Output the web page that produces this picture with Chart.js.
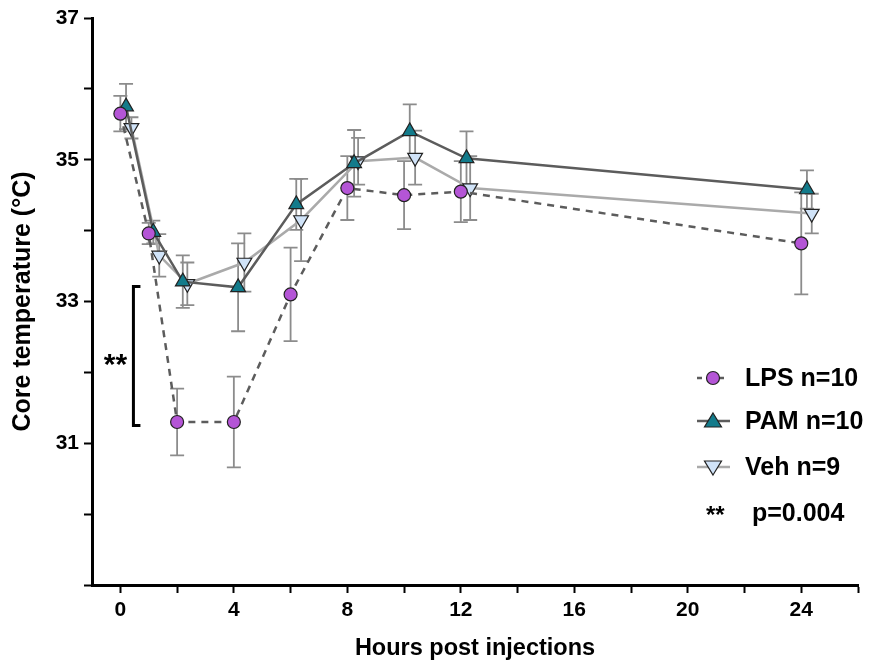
<!DOCTYPE html>
<html>
<head>
<meta charset="utf-8">
<script src="https://cdn.jsdelivr.net/npm/chart.js@4.4.1/dist/chart.umd.min.js"></script>
<style>
  html, body { margin: 0; padding: 0; background: #fff; }
  #wrap { width: 872px; height: 663px; }
</style>
</head>
<body>
<div id="wrap"><canvas id="tempChart" width="872" height="663"></canvas></div>
<script>
// hours after injection (groups are slightly offset, as in the figure)
const hoursLPS = [0, 1, 2, 4, 6, 8, 10, 12, 24];
const tempLPS  = [35.65, 33.96, 31.3, 31.3, 33.1, 34.6, 34.5, 34.55, 33.82];
const semLPS   = [0.25, 0.15, 0.47, 0.64, 0.66, 0.45, 0.48, 0.43, 0.72];

const hoursPAM = [0.2, 1.16, 2.2, 4.15, 6.2, 8.24, 10.2, 12.2, 24.2];
const tempPAM  = [35.75, 33.98, 33.28, 33.2, 34.37, 34.95, 35.4, 35.02, 34.58];
const semPAM   = [0.32, 0.16, 0.37, 0.62, 0.36, 0.47, 0.38, 0.38, 0.27];

const hoursVeh = [0.39, 1.37, 2.36, 4.37, 6.37, 8.38, 10.39, 12.33, 24.37];
const tempVeh  = [35.45, 33.65, 33.25, 33.55, 34.15, 34.98, 35.03, 34.6, 34.24];
const semVeh   = [0.15, 0.3, 0.3, 0.41, 0.58, 0.33, 0.38, 0.45, 0.28];

const xTicks = [0, 2, 4, 6, 8, 10, 12, 14, 16, 18, 20, 22, 24, 26];
const xLabels = [0, 4, 8, 12, 16, 20, 24];
const yTicks = [29, 30, 31, 32, 33, 34, 35, 36, 37];
const yLabels = [31, 33, 35, 37];

const legendItems = ['LPS n=10', 'PAM n=10', 'Veh n=9'];
const sigLabel = 'p=0.004';

const FONT = "'Liberation Sans', Arial, sans-serif";

function toPoints(xs, ys) {
  return xs.map((x, i) => ({ x: x, y: ys[i] }));
}

const sems = [semLPS, semPAM, semVeh];

const errorBars = {
  id: 'errorBars',
  beforeDatasetsDraw(chart) {
    const ctx = chart.ctx;
    const xs = chart.scales.x, ys = chart.scales.y;
    ctx.save();
    ctx.strokeStyle = '#8c8c8c';
    ctx.lineWidth = 1.8;
    chart.data.datasets.forEach((ds, di) => {
      ds.data.forEach((p, i) => {
        const px = xs.getPixelForValue(p.x);
        const top = ys.getPixelForValue(p.y + sems[di][i]);
        const bot = ys.getPixelForValue(p.y - sems[di][i]);
        ctx.beginPath();
        ctx.moveTo(px, top); ctx.lineTo(px, bot);
        ctx.moveTo(px - 7, top); ctx.lineTo(px + 7, top);
        ctx.moveTo(px - 7, bot); ctx.lineTo(px + 7, bot);
        ctx.stroke();
      });
    });
    ctx.restore();
  }
};

const extras = {
  id: 'extras',
  afterDraw(chart) {
    const ctx = chart.ctx;
    const xs = chart.scales.x, ys = chart.scales.y;
    ctx.save();

    // significance bracket
    const bx = xs.getPixelForValue(0.46);
    const bt = ys.getPixelForValue(33.21);
    const bb = ys.getPixelForValue(31.25);
    ctx.strokeStyle = '#000';
    ctx.lineWidth = 3;
    ctx.beginPath();
    ctx.moveTo(bx + 7, bt); ctx.lineTo(bx, bt); ctx.lineTo(bx, bb); ctx.lineTo(bx + 7, bb);
    ctx.stroke();
    ctx.fillStyle = '#000';
    ctx.font = 'bold 30px ' + FONT;
    ctx.textAlign = 'center';
    ctx.textBaseline = 'middle';
    ctx.fillText('**', bx - 18, ys.getPixelForValue(32.2) + 8);

    // legend
    const rows = [378, 421, 467];
    const styles = chart.data.datasets;
    ctx.textAlign = 'left';
    ctx.font = 'bold 25px ' + FONT;
    rows.forEach((y, i) => {
      const ds = styles[i];
      ctx.save();
      ctx.strokeStyle = ds.borderColor;
      ctx.lineWidth = 2.5;
      if (ds.borderDash) ctx.setLineDash([5, 6]);
      ctx.beginPath();
      ctx.moveTo(697, y); ctx.lineTo(730, y);
      ctx.stroke();
      ctx.restore();
      ctx.save();
      ctx.fillStyle = ds.pointBackgroundColor;
      ctx.strokeStyle = '#222';
      ctx.lineWidth = 1.2;
      ctx.beginPath();
      if (i === 0) {
        ctx.arc(713, y, 6.5, 0, Math.PI * 2);
      } else if (i === 1) {
        ctx.moveTo(713, y - 8); ctx.lineTo(721.5, y + 6); ctx.lineTo(704.5, y + 6); ctx.closePath();
      } else {
        ctx.moveTo(713, y + 8); ctx.lineTo(721.5, y - 6); ctx.lineTo(704.5, y - 6); ctx.closePath();
      }
      ctx.fill(); ctx.stroke();
      ctx.restore();
      ctx.fillStyle = '#000';
      ctx.fillText(legendItems[i], 745, y + 1);
    });
    ctx.font = 'bold 24px ' + FONT;
    ctx.fillText('**', 706, 516);
    ctx.font = 'bold 25px ' + FONT;
    ctx.fillText(sigLabel, 752, 514);

    ctx.restore();
  }
};

new Chart(document.getElementById('tempChart'), {
  type: 'line',
  data: {
    datasets: [
      {
        label: 'LPS', data: toPoints(hoursLPS, tempLPS), order: 1,
        borderColor: '#5c5c5c', borderWidth: 2.5, borderDash: [7, 6],
        pointStyle: 'circle', pointRadius: 6.5, pointBackgroundColor: '#b455d6',
        pointBorderColor: '#222', pointBorderWidth: 1.2
      },
      {
        label: 'PAM', data: toPoints(hoursPAM, tempPAM), order: 2,
        borderColor: '#5c5c5c', borderWidth: 2.5,
        pointStyle: 'triangle', pointRadius: 8.5, pointBackgroundColor: '#137b8b',
        pointBorderColor: '#222', pointBorderWidth: 1.2
      },
      {
        label: 'Veh', data: toPoints(hoursVeh, tempVeh), order: 3,
        borderColor: '#aaaaaa', borderWidth: 2.5,
        pointStyle: 'triangle', pointRotation: 180, pointRadius: 8.5, pointBackgroundColor: '#d0e3f8',
        pointBorderColor: '#222', pointBorderWidth: 1.2
      }
    ]
  },
  options: {
    responsive: false,
    animation: false,
    layout: { padding: { top: 18, right: 14, left: 0, bottom: 0 } },
    plugins: { legend: { display: false }, tooltip: { enabled: false } },
    scales: {
      x: {
        type: 'linear', min: -1, max: 26,
        afterBuildTicks: s => { s.ticks = xTicks.map(v => ({ value: v })); },
        afterFit: s => { s.height = 78; },
        grid: { drawOnChartArea: false, drawTicks: true, tickLength: 8, tickColor: '#000', tickWidth: 2 },
        border: { color: '#000', width: 3 },
        ticks: {
          color: '#000', font: { family: FONT, weight: 'bold', size: 21 }, padding: 5,
          autoSkip: false, maxRotation: 0,
          callback: v => xLabels.includes(v) ? String(v) : ''
        },
        title: {
          display: true, text: 'Hours post injections', color: '#000',
          font: { family: FONT, weight: 'bold', size: 23.5 }, padding: { top: 0, bottom: 0 }
        }
      },
      y: {
        type: 'linear', min: 29, max: 37,
        afterBuildTicks: s => { s.ticks = yTicks.map(v => ({ value: v })); },
        afterFit: s => { s.width = 92; },
        grid: { drawOnChartArea: false, drawTicks: true, tickLength: 8, tickColor: '#000', tickWidth: 2 },
        border: { color: '#000', width: 3 },
        ticks: {
          color: '#000', font: { family: FONT, weight: 'bold', size: 21 }, padding: 5,
          autoSkip: false,
          callback: v => yLabels.includes(v) ? String(v) : ''
        },
        title: {
          display: true, text: 'Core temperature (°C)', color: '#000',
          font: { family: FONT, weight: 'bold', size: 25 }, padding: { top: 8, bottom: 4 }
        }
      }
    }
  },
  plugins: [errorBars, extras]
});
</script>
</body>
</html>
